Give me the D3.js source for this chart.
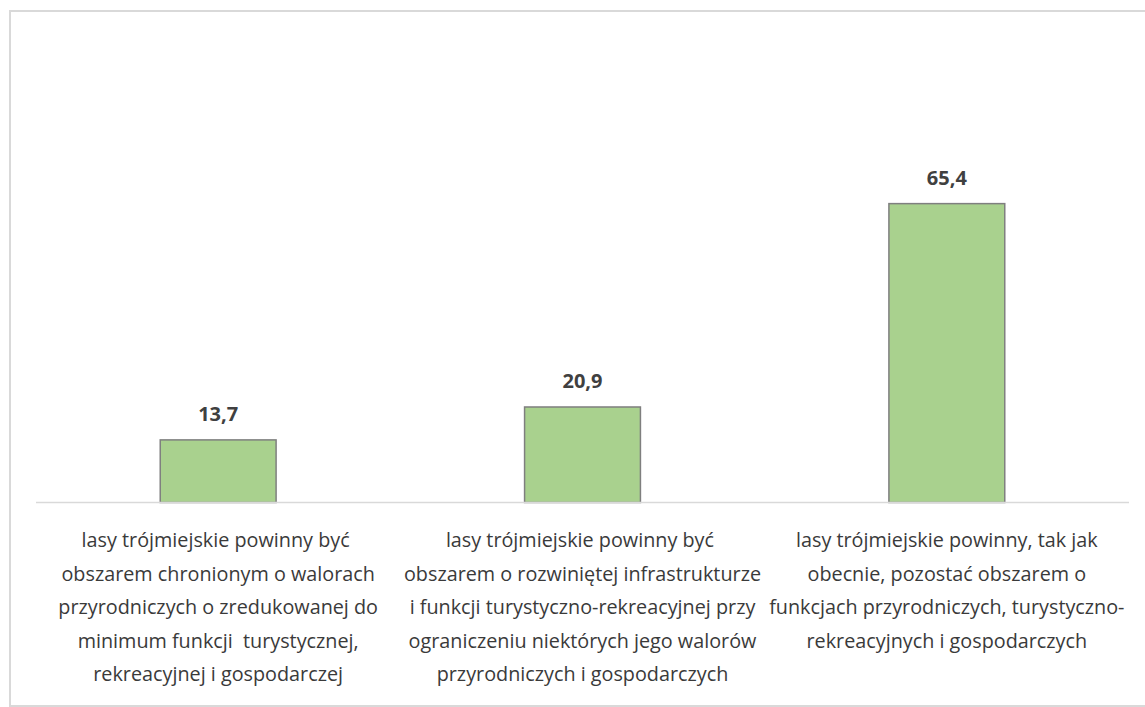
<!DOCTYPE html>
<html>
<head>
<meta charset="utf-8">
<script src="https://cdn.jsdelivr.net/npm/d3@7"></script>
<style>
  body { margin: 0; background: #fff; }
  svg text { white-space: pre; }
</style>
</head>
<body>
<div id="chart"></div>
<script>
// values
const categories = ['c1', 'c2', 'c3']
const values = [13.7, 20.9, 65.4]
const valueLabels = ['13,7', '20,9', '65,4']
const categoryLines = [
    ['lasy trójmiejskie powinny być ',
     'obszarem chronionym o walorach',
     'przyrodniczych o zredukowanej do',
     'minimum funkcji  turystycznej,',
     'rekreacyjnej i gospodarczej'],
    ['lasy trójmiejskie powinny być ',
     'obszarem o rozwiniętej infrastrukturze',
     ' i funkcji turystyczno-rekreacyjnej przy ',
     'ograniczeniu niektórych jego walorów',
     'przyrodniczych i gospodarczych'],
    ['lasy trójmiejskie powinny, tak jak',
     'obecnie, pozostać obszarem o',
     'funkcjach przyrodniczych, turystyczno-',
     'rekreacyjnych i gospodarczych']
]

const width = 1145
const height = 707
const fontFamily = "'Open Sans', sans-serif"

const svg = d3.select('#chart').append('svg')
    .attr('width', width)
    .attr('height', height)

// chart frame
svg.append('rect')
    .attr('x', 10)
    .attr('y', 11)
    .attr('width', 1150)
    .attr('height', 695)
    .attr('fill', 'none')
    .attr('stroke', '#d9d9d9')
    .attr('stroke-width', 2)

const x = d3.scaleBand()
    .domain(categories)
    .range([36, 1129])
    .paddingInner(0.682)
    .paddingOuter(0.341)

const y = d3.scaleLinear()
    .domain([0, 70])
    .range([502.5, 502.5 - 70 * 4.57])

const bars = svg.append('g')

bars.selectAll('rect')
    .data(values)
    .join('rect')
    .attr('x', (d, i) => x(categories[i]))
    .attr('y', d => y(d))
    .attr('width', x.bandwidth())
    .attr('height', d => y(0) - y(d))
    .attr('fill', '#a9d18e')
    .attr('stroke', '#7f7f7f')
    .attr('stroke-width', 1.5)

// category axis line
svg.append('line')
    .attr('x1', 36)
    .attr('x2', 1129)
    .attr('y1', y(0))
    .attr('y2', y(0))
    .attr('stroke', '#d9d9d9')
    .attr('stroke-width', 1.5)

// value labels
svg.append('g').selectAll('text')
    .data(values)
    .join('text')
    .attr('x', (d, i) => x(categories[i]) + x.bandwidth() / 2)
    .attr('y', d => y(d) - 19)
    .attr('text-anchor', 'middle')
    .style('font-family', fontFamily)
    .style('font-size', '20px')
    .style('font-weight', 'bold')
    .attr('fill', '#404040')
    .text((d, i) => valueLabels[i])

// category labels
const labels = svg.append('g').selectAll('text')
    .data(categoryLines)
    .join('text')
    .attr('text-anchor', 'middle')
    .style('font-family', fontFamily)
    .style('font-size', '19.8px')
    .attr('fill', '#3a3a3a')

labels.each(function(lines, i){
    const cx = x(categories[i]) + x.bandwidth() / 2
    d3.select(this).selectAll('tspan')
        .data(lines)
        .join('tspan')
        .attr('x', cx)
        .attr('y', (d, j) => 547 + j * 33.5)
        .text(d => d)
})
</script>
</body>
</html>
